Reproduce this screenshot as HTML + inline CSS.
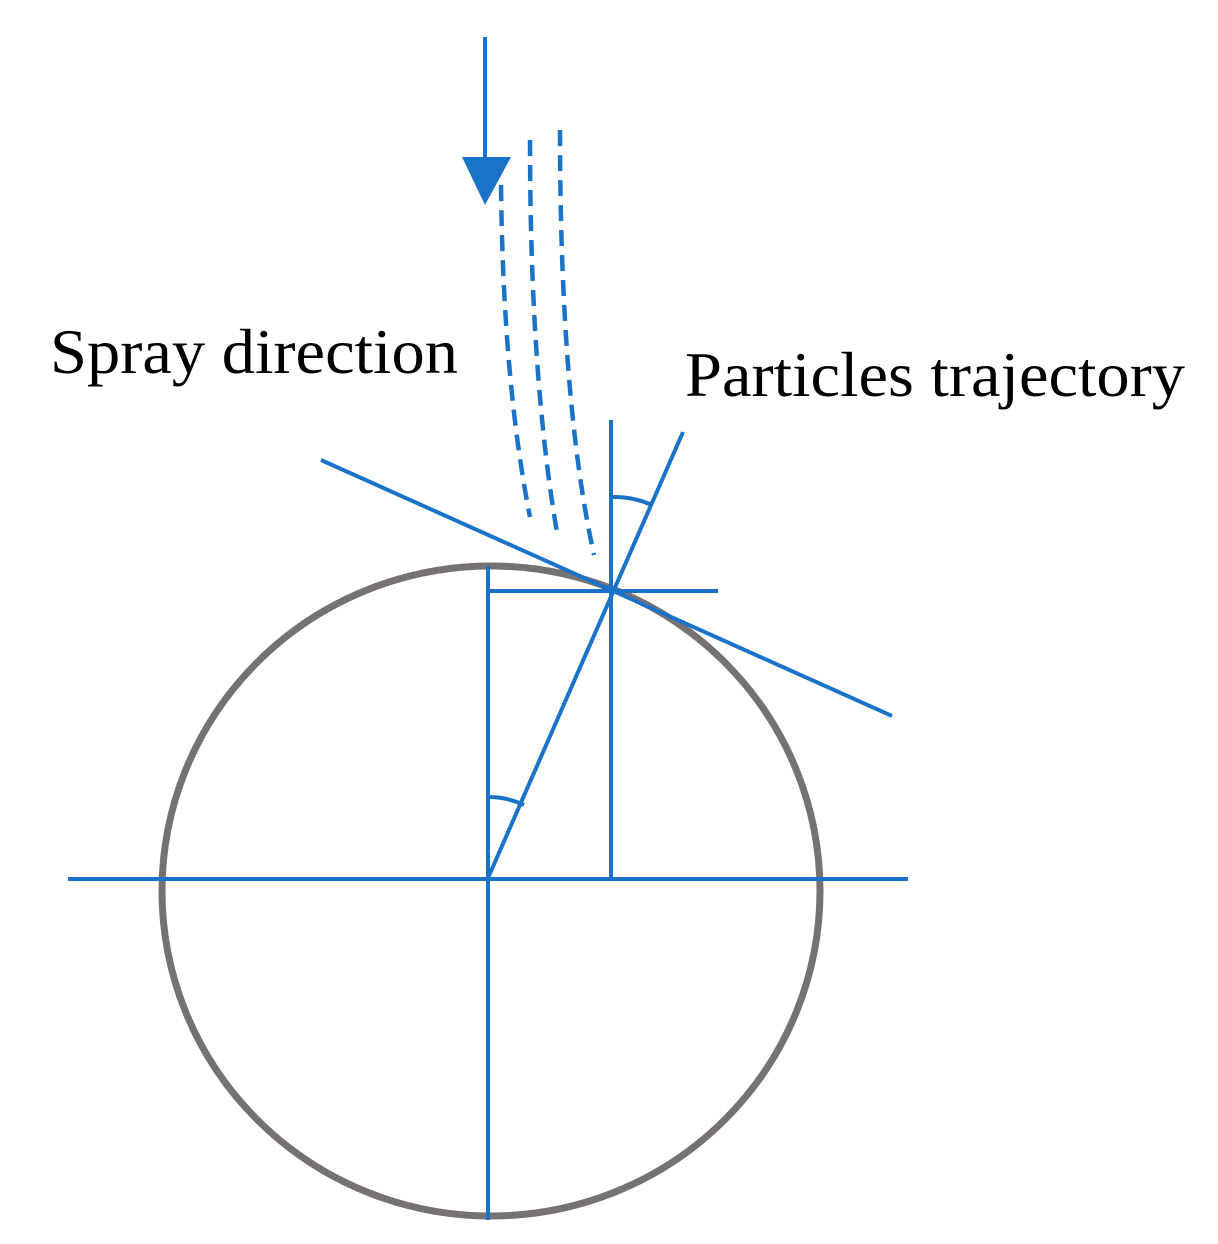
<!DOCTYPE html>
<html><head><style>body{margin:0;background:#fff}svg{display:block}</style></head><body>
<svg width="1218" height="1244" viewBox="0 0 1218 1244" xmlns="http://www.w3.org/2000/svg">
<ellipse cx="491" cy="891" rx="329" ry="325" fill="none" stroke="#777272" stroke-width="7"/>
<g stroke="#1a73c8" stroke-width="4" fill="none">
<line x1="485" y1="37" x2="485" y2="160"/>
<line x1="68" y1="879" x2="908" y2="879"/>
<line x1="488" y1="566" x2="488" y2="1220"/>
<line x1="611" y1="420" x2="611" y2="879"/>
<line x1="488" y1="591" x2="718" y2="591"/>
<line x1="488" y1="878" x2="683" y2="432"/>
<line x1="321" y1="460" x2="892" y2="716"/>
<path d="M490 797 A81 81 0 0 1 524 805"/>
<path d="M613 497 A93 93 0 0 1 652 505"/>
<g stroke-dasharray="16,9" stroke-width="4.5">
<path d="M501 185 Q503 380 530 517"/>
<path d="M530 140 Q530 380 558 538"/>
<path d="M560 130 Q560 400 594 555"/>
</g>
</g>
<polygon points="462,157 511,157 485,205" fill="#1a73c8"/>
<g font-family="'Liberation Serif',serif" font-size="63" fill="#000">
<text x="50" y="373" textLength="408" lengthAdjust="spacingAndGlyphs">Spray direction</text>
<text x="685" y="396" textLength="500" lengthAdjust="spacingAndGlyphs">Particles trajectory</text>
</g>
</svg>
</body></html>
